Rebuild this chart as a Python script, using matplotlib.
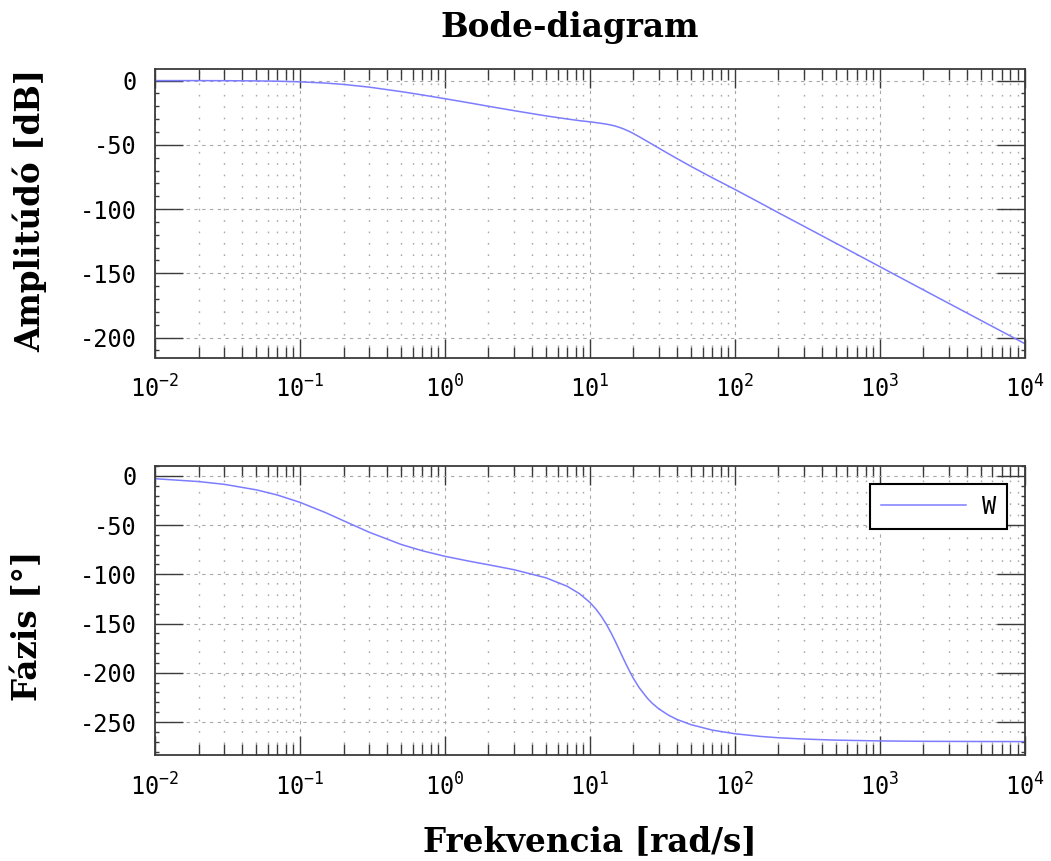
import numpy as np
import matplotlib
matplotlib.use("Agg")
import matplotlib.pyplot as plt
from matplotlib.ticker import FixedLocator, MultipleLocator, FuncFormatter, NullFormatter

# frequency points [rad/s]
freq = [0.01, 0.02, 0.03, 0.05, 0.07, 0.1, 0.15, 0.2, 0.3, 0.5, 0.7, 1, 1.5, 2, 3, 5, 7, 8.5,
        10, 11, 12, 13, 14, 15, 16, 17, 18, 19, 20, 22, 25, 27, 30, 35, 40, 50, 70, 100, 150,
        200, 300, 500, 1000, 2000, 5000, 10000]
# amplitude [dB]
amp = [-0.01, -0.04, -0.1, -0.26, -0.5, -0.97, -1.94, -3.0, -5.1, -8.6, -11.2, -14.1, -17.5,
       -20.0, -23.4, -27.5, -29.9, -31.2, -32.1, -32.7, -33.3, -33.9, -34.6, -35.4, -36.4,
       -37.5, -38.7, -39.9, -41.2, -43.8, -47.4, -49.6, -52.6, -57.0, -60.7, -66.8, -75.6,
       -84.6, -95.2, -102.8, -113.3, -126.6, -144.7, -162.8, -186.6, -204.6]
# phase [deg]
phase = [-2.9, -5.8, -8.6, -14.2, -19.5, -26.9, -37.3, -45.6, -57.2, -69.7, -76.1, -81.7, -86.9,
         -90.3, -95.3, -103.6, -112.2, -119.7, -128.4, -135.1, -142.5, -150.6, -159.2, -168.0,
         -176.8, -185.1, -192.7, -199.5, -205.6, -215.4, -225.9, -231.0, -236.7, -243.1,
         -247.4, -252.7, -258.2, -261.9, -264.6, -266.0, -267.3, -268.4, -269.2, -269.6,
         -269.8, -269.9]

decades = [1e-2, 1e-1, 1e0, 1e1, 1e2, 1e3, 1e4]
amp_ticks = [0, -50, -100, -150, -200]
phase_ticks = [0, -50, -100, -150, -200, -250]

plt.rcParams['axes.unicode_minus'] = False
plt.rcParams['mathtext.fontset'] = 'custom'
plt.rcParams['mathtext.rm'] = 'DejaVu Sans Mono'
plt.rcParams['mathtext.default'] = 'rm'

W, H = 1051, 861
fig = plt.figure(figsize=(W / 100, H / 100), dpi=100)

def px(x0, y0, x1, y1):
    return [x0 / W, 1 - y1 / H, (x1 - x0) / W, (y1 - y0) / H]

ax1 = fig.add_axes(px(155, 69, 1024.5, 357.5))
ax2 = fig.add_axes(px(155, 466, 1024.5, 755))

line_col = '#7c7cff'
frame_col = '#3a3a3a'
mono = 'DejaVu Sans Mono'
serif = 'DejaVu Serif'

minor_x = [m * d for d in decades[:-1] for m in range(2, 10)]

def dec_fmt(x, pos):
    return r'$10^{%d}$' % int(round(np.log10(x)))

def style(ax, yticks, ylim):
    ax.set_xscale('log')
    ax.set_xlim(1e-2, 1e4)
    ax.set_ylim(*ylim)
    ax.xaxis.set_major_locator(FixedLocator(decades))
    ax.xaxis.set_minor_locator(FixedLocator(minor_x))
    ax.xaxis.set_major_formatter(FuncFormatter(dec_fmt))
    ax.xaxis.set_minor_formatter(NullFormatter())
    ax.yaxis.set_major_locator(FixedLocator(yticks))
    ax.yaxis.set_minor_locator(MultipleLocator(10))
    ax.tick_params(axis='both', which='both', direction='in', top=True, right=True,
                   colors=frame_col, labelcolor='black', width=1.0)
    ax.tick_params(axis='y', which='major', length=20, pad=13, labelsize=17)
    ax.tick_params(axis='y', which='minor', length=3)
    ax.tick_params(axis='x', which='major', length=14, pad=13, labelsize=17)
    ax.tick_params(axis='x', which='minor', length=8)
    for lab in ax.get_xticklabels() + ax.get_yticklabels():
        lab.set_fontfamily(mono)
    ax.grid(True, which='major', axis='both', color='#a8a8a8', linewidth=0.8,
            linestyle=(0, (3, 4)))
    ax.grid(True, which='minor', axis='x', color='#a8a8a8', linewidth=1.0,
            linestyle=(0, (1.2, 7)))
    for s in ax.spines.values():
        s.set_color(frame_col)
        s.set_linewidth(1.3)
    ax.set_axisbelow(True)

style(ax1, amp_ticks, (-215.5, 9))
style(ax2, phase_ticks, (-283.5, 10))

ax1.plot(freq, amp, color=line_col, linewidth=1.1)
ax2.plot(freq, phase, color=line_col, linewidth=1.1, label='W')

leg = ax2.legend(loc='upper right', bbox_to_anchor=((1007 - 155) / 869.5, 1 - (484 - 466) / 289),
                 borderaxespad=0, fancybox=False, framealpha=1, edgecolor='black',
                 prop={'family': mono, 'size': 17}, handlelength=3.6, handletextpad=0.7,
                 borderpad=0.45)
leg.get_frame().set_linewidth(1.5)

fig.text(570 / W, 1 - 27 / H, 'Bode-diagram', fontfamily=serif, fontweight='bold',
         fontsize=23.5, ha='center', va='center')
fig.text(30 / W, 1 - 210 / H, 'Amplitúdó [dB]', fontfamily=serif, fontweight='bold',
         fontsize=23.5, ha='center', va='center', rotation=90)
fig.text(28 / W, 1 - 626 / H, 'Fázis [°]', fontfamily=serif, fontweight='bold',
         fontsize=23.5, ha='center', va='center', rotation=90)
fig.text(590 / W, 1 - 842 / H, 'Frekvencia [rad/s]', fontfamily=serif, fontweight='bold',
         fontsize=23.5, ha='center', va='center')

fig.savefig('out.png', dpi=100)
